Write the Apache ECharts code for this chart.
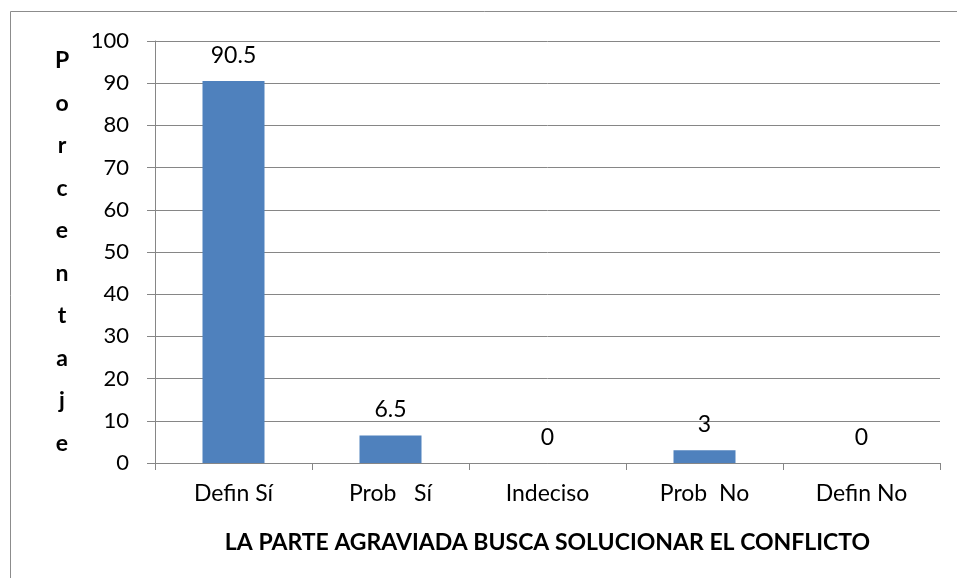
<!DOCTYPE html>
<html><head><meta charset="utf-8">
<script src="https://cdn.jsdelivr.net/npm/echarts@6/dist/echarts.min.js"></script>
<style>html,body{margin:0;padding:0;background:#fff}#c{width:957px;height:578px}</style>
</head><body><div id="c"></div>
<script>
const categories = ['Defin Sí', 'Prob   Sí', 'Indeciso', 'Prob  No', 'Defin No'];
const values = [90.5, 6.5, 0, 3, 0];
const yTitle = 'Porcentaje';
const xTitle = 'LA PARTE AGRAVIADA BUSCA SOLUCIONAR EL CONFLICTO';

const font = 'Lato, "Liberation Sans", sans-serif';
const chart = echarts.init(document.getElementById('c'));
chart.setOption({
  animation: false,
  backgroundColor: '#fff',
  graphic: [{
    type: 'rect', shape: {x: 10.5, y: 11.5, width: 980, height: 620},
    style: {fill: 'none', stroke: '#8c8c8c', lineWidth: 1}, silent: true
  }],
  grid: {left: 155, right: 17, top: 41, bottom: 115},
  xAxis: {
    type: 'category', data: categories,
    axisLine: {lineStyle: {color: '#868686', width: 1}},
    axisTick: {show: true, alignWithLabel: false, length: 7, lineStyle: {color: '#868686'}},
    axisLabel: {color: '#000', fontSize: 23, fontFamily: font, margin: 19},
    name: xTitle, nameLocation: 'middle', nameGap: 68,
    nameTextStyle: {color: '#000', fontSize: 23, fontWeight: 'bold', fontFamily: font}
  },
  yAxis: {
    type: 'value', min: 0, max: 100, interval: 10,
    axisLine: {show: true, lineStyle: {color: '#868686', width: 1}},
    axisTick: {show: true, length: 8, inside: false, lineStyle: {color: '#868686'}},
    splitLine: {lineStyle: {color: '#868686', width: 1}},
    axisLabel: {color: '#000', fontSize: 22, fontFamily: font, margin: 26},
    name: yTitle.split('').join('\n'), nameLocation: 'middle', nameRotate: 0, nameGap: 93,
    nameTextStyle: {color: '#000', fontSize: 23, fontWeight: 'bold', fontFamily: font, lineHeight: 42.5, align: 'center', verticalAlign: 'middle'}
  },
  series: [{
    type: 'bar', data: values, barWidth: 62,
    itemStyle: {color: '#4F81BD'},
    label: {show: true, position: 'top', distance: 14, color: '#000', fontSize: 23, fontFamily: font}
  }]
});
</script></body></html>
